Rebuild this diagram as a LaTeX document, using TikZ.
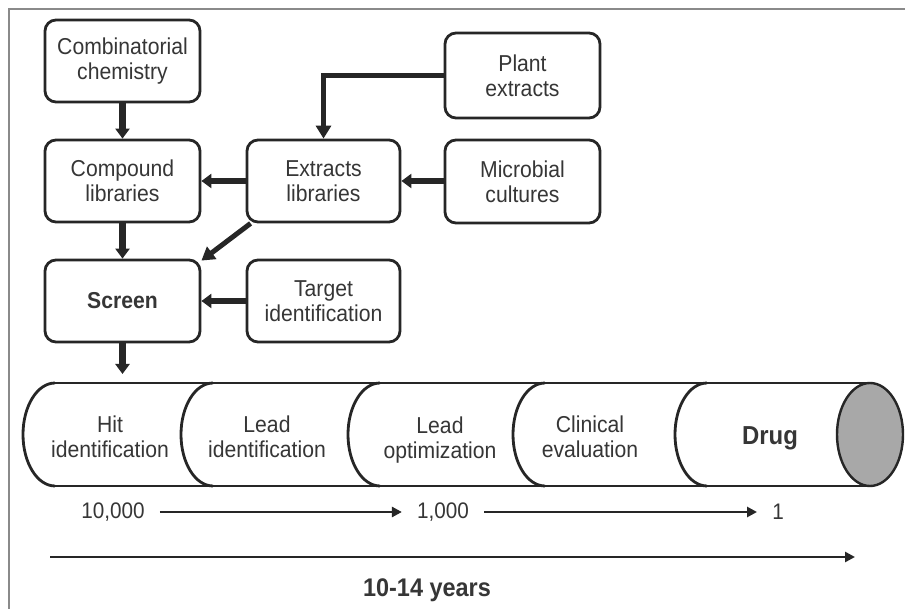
\documentclass[tikz,border=0pt]{standalone}
\usepackage{fontspec}
\setmainfont{Liberation Sans}[FakeStretch=0.92]
\usetikzlibrary{arrows.meta}
\definecolor{ink}{HTML}{262626}
\definecolor{txt}{HTML}{363636}
\definecolor{framegray}{HTML}{8A8A8A}
\definecolor{capfill}{HTML}{A8A8A8}

\begin{document}
\begin{tikzpicture}[x=1pt,y=1pt,
  box/.style={draw=ink, line width=2.8pt, rounded corners=11pt,
    minimum width=155pt, minimum height=82pt, inner sep=0pt,
    align=center, text=txt, font=\fontsize{23}{25}\selectfont},
  heavy/.style={draw=ink, line width=6.5pt, -{Triangle[width=14pt,length=10pt]}},
  medium/.style={draw=ink, line width=5pt, -{Triangle[width=15pt,length=13pt]}},
  thinarrow/.style={draw=ink, line width=2.6pt, -{Triangle[width=10pt,length=10pt]}},
  lbl/.style={text=txt, align=center, font=\fontsize{23}{25}\selectfont},
  pipe/.style={draw=ink, line width=2.8pt}
]
\useasboundingbox (0,0) rectangle (905,-609);
\fill[white] (0,0) rectangle (905,-609);
\draw[framegray, line width=2pt] (905,-9) -- (9,-9) -- (9,-609);

% sources and screening boxes
\node[box] (comb) at (122.5,-61) {Combinatorial\\chemistry};
\node[box] (comp) at (122.5,-181) {Compound\\libraries};
\node[box, font=\bfseries\fontsize{23}{25}\selectfont] (scr) at (122.5,-301) {Screen};
\node[box, minimum width=153pt] (extr) at (323.5,-181) {Extracts\\libraries};
\node[box, minimum width=153pt] (targ) at (323.5,-301) {Target\\identification};
\node[box, minimum height=85pt] (plant) at (522.5,-75.5) {Plant\\extracts};
\node[box, minimum height=83pt] (micro) at (522.5,-181.5) {Microbial\\cultures};

% flow between boxes
\draw[heavy] (comb) -- (comp);
\draw[heavy] (comp) -- (scr);
\draw[heavy] (extr) -- (comp);
\draw[heavy] (micro.west |- extr) -- (extr.east);
\draw[heavy] (targ) -- (scr);
\draw[medium] ([xshift=5pt]extr.south west) -- ([yshift=-2pt]scr.north east);
\draw[medium] (plant.west) -| (extr.north);
\coordinate (pipein) at (122.5,-374);
\draw[heavy] (scr) -- (pipein);

% pipeline cylinder
\draw[pipe] (55,-383) -- (870,-383) (55,-486) -- (870,-486);
\foreach \sx in {55,213,380,545,707}
  \draw[pipe] (\sx,-383) arc[start angle=90, end angle=270, x radius=32, y radius=51.5];
\filldraw[fill=capfill, draw=ink, line width=2.4pt] (870,-434.5) ellipse[x radius=33, y radius=51.5];

\node[lbl] (hit) at (110,-437) {Hit\\identification};
\node[lbl] (leadid) at (267,-437) {Lead\\identification};
\node[lbl] (leadopt) at (440,-440) {Lead\\optimization};
\node[lbl] (clin) at (590,-437) {Clinical\\evaluation};
\node[lbl, font=\bfseries\fontsize{26}{28}\selectfont] (drug) at (770,-438) {Drug};

% attrition counts
\node[lbl, inner sep=0pt, font=\fontsize{22.5}{25}\selectfont] (n10k) at (113,-512) {10,000};
\node[lbl, inner sep=0pt, font=\fontsize{22.5}{25}\selectfont] (n1k) at (443,-512) {1,000};
\node[lbl, inner sep=0pt, font=\fontsize{22.5}{25}\selectfont] (n1) at (778,-512) {1};
\draw[thinarrow, shorten <=15pt, shorten >=15pt] (n10k) -- (n1k);
\draw[thinarrow, shorten <=15pt, shorten >=15pt] (n1k) -- (n1);

% time line
\coordinate (tstart) at (50,-557);
\coordinate (tend) at (855,-557);
\draw[thinarrow] (tstart) -- (tend);
\node[text=txt, font=\bfseries\fontsize{25.5}{28}\selectfont] (years) at (427,-590) {10-14 years};
\end{tikzpicture}
\end{document}
